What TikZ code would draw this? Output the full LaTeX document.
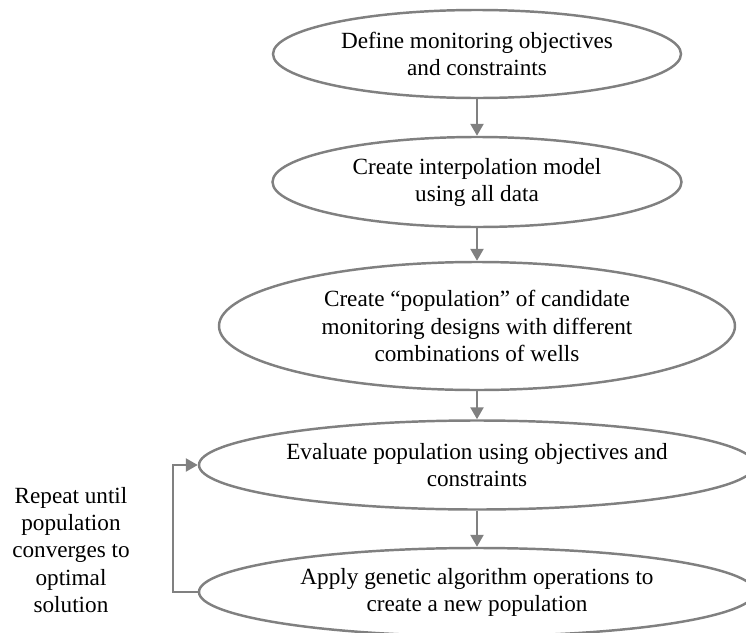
\documentclass[tikz,border=0pt]{standalone}
\usepackage{fontspec}
\setmainfont{Liberation Serif}
\usepackage{tikz}
\usetikzlibrary{arrows.meta,shapes.geometric}

\begin{document}
\begin{tikzpicture}[
  stage/.style={draw=gray,line width=1.4pt,ellipse,inner sep=0pt,align=center,
                font=\fontsize{13.2}{15.4}\selectfont},
  note/.style={align=center,font=\fontsize{13.2}{15.4}\selectfont},
  arr/.style={-{Triangle[length=0.24cm,width=0.26cm]},draw=gray,line width=1.4pt}
]
\useasboundingbox (0,0) rectangle (14.92,-12.64);
% Main steps
\node[stage,minimum width=8.16cm,minimum height=1.76cm] (obj) at (9.54,-1.08)
    {Define monitoring objectives\\and constraints};
\node[stage,minimum width=8.18cm,minimum height=1.80cm] (interp) at (9.54,-3.64)
    {Create interpolation model\\using all data};
\node[stage,minimum width=10.32cm,minimum height=2.56cm] (pop) at (9.54,-6.52)
    {Create “population” of candidate\\monitoring designs with different\\combinations of wells};
\node[stage,minimum width=11.12cm,minimum height=1.78cm] (eval) at (9.54,-9.30)
    {Evaluate population using objectives and\\constraints};
\node[stage,minimum width=11.12cm,minimum height=1.76cm] (ga) at (9.54,-11.84)
    {Apply genetic algorithm operations to\\create a new population};
% Loop label
\node[note] (rep) at (1.42,-11.0)
    {Repeat until\\population\\converges to\\optimal\\solution};
% Arrows down the chain
\draw[arr] (obj.south) -- (interp.north);
\draw[arr] (interp.south) -- (pop.north);
\draw[arr] (pop.south) -- (eval.north);
\draw[arr] (eval.south) -- (ga.north);
% Feedback loop
\draw[arr] (ga.west) -- ++(-0.5,0) |- (eval.west);
\end{tikzpicture}
\end{document}
